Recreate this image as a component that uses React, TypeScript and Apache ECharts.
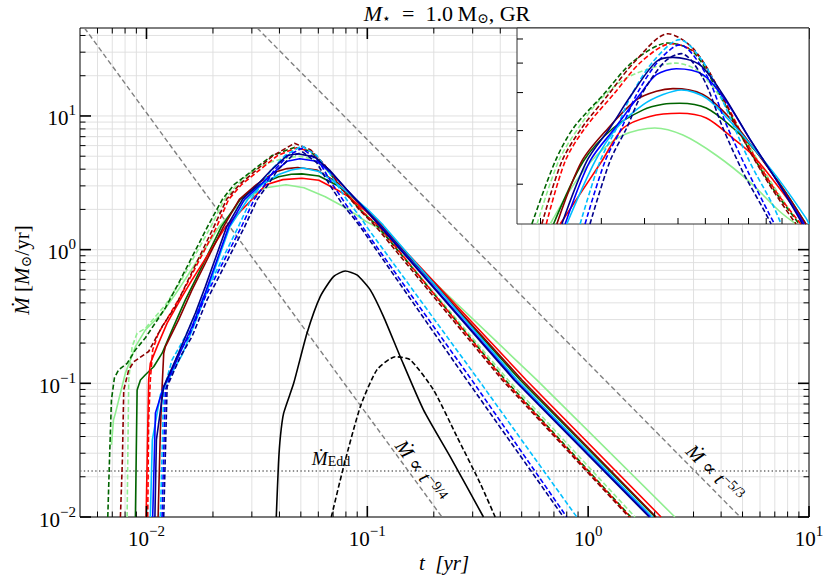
import React, { useEffect, useRef } from 'react';
import * as echarts from 'echarts';

const SERIF = 'Liberation Serif, Times New Roman, DejaVu Serif, serif';

type Pt = [number, number];

// ---- colored curves: [t (yr), Mdot (Msun/yr)] ----
const darkGreenDashed: Pt[] = [[0.00668,0.01],[0.0068,0.0268],[0.00694,0.0752],[0.00716,0.11],[0.00748,0.126],[0.00817,0.141],[0.00891,0.178],[0.00989,0.219],[0.01218,0.367],[0.01423,0.594],[0.01888,1.48],[0.02206,2.38],[0.02491,3.06],[0.03041,3.94],[0.0371,5.06],[0.04677,5.82],[0.05517,5.46],[0.06451,4.14],[0.07695,2.83],[0.09405,1.94],[0.1121,1.48],[0.421,0.106],[1.56,0.01]];
const darkRedDashed: Pt[] = [[0.00762,0.01],[0.00778,0.0268],[0.00789,0.0893],[0.00831,0.126],[0.00876,0.145],[0.01023,0.173],[0.01177,0.266],[0.01351,0.375],[0.02018,1.48],[0.02306,2.38],[0.02633,3.06],[0.03143,3.94],[0.0375,5.06],[0.04677,6.24],[0.05517,5.6],[0.06451,4.25],[0.07695,2.83],[0.092,1.99],[0.1097,1.48],[0.408,0.106],[1.53,0.01]];
const redDashed: Pt[] = [[0.01013,0.01],[0.01023,0.0532],[0.01041,0.106],[0.01067,0.178],[0.01132,0.237],[0.01218,0.289],[0.01423,0.445],[0.02078,1.48],[0.02357,2.38],[0.02691,3.06],[0.03249,3.94],[0.03921,5.06],[0.04782,5.79],[0.05643,5.39],[0.06597,4.04],[0.07868,2.76],[0.09616,1.89],[0.1134,1.48],[0.416,0.106],[1.55,0.01]];
const lightGreenDashed: Pt[] = [[0.00817,0.01],[0.00831,0.106],[0.00861,0.188],[0.00907,0.237],[0.00989,0.258],[0.01218,0.386],[0.01423,0.573],[0.01954,1.48],[0.02255,2.38],[0.02574,3.06],[0.02974,3.79],[0.03551,4.47],[0.0433,4.87],[0.04943,5.0],[0.05643,4.75],[0.06451,4.04],[0.07695,2.9],[0.09405,1.99],[0.1121,1.48],[0.434,0.106],[1.63,0.01]];
const skyBlueDashed: Pt[] = [[0.01156,0.01],[0.01197,0.0893],[0.01306,0.15],[0.015,0.224],[0.01785,0.421],[0.02604,1.48],[0.02974,2.38],[0.03322,3.06],[0.0367,3.94],[0.04236,5.06],[0.05053,5.97],[0.05902,5.06],[0.06746,3.74],[0.08046,2.38],[0.09405,1.71],[0.0994,1.48],[0.319,0.106],[0.888,0.01]];
const blueDashed: Pt[] = [[0.01177,0.01],[0.01218,0.0893],[0.01375,0.158],[0.01552,0.224],[0.01847,0.445],[0.02691,1.48],[0.03075,2.38],[0.03434,3.06],[0.03793,3.94],[0.04378,5.06],[0.05053,5.74],[0.06036,4.58],[0.06899,3.14],[0.08046,2.15],[0.092,1.59],[0.0951,1.48],[0.297,0.106],[0.8,0.01]];
const navyDashed: Pt[] = [[0.01197,0.01],[0.0124,0.0945],[0.01423,0.158],[0.01608,0.224],[0.0188,0.421],[0.02781,1.48],[0.03177,2.38],[0.03551,3.06],[0.03921,3.94],[0.0458,5.06],[0.0511,5.37],[0.05902,4.47],[0.06746,3.06],[0.07695,2.2],[0.08798,1.67],[0.09302,1.48],[0.282,0.106],[0.773,0.01]];
const navySolid: Pt[] = [[0.01092,0.01],[0.01109,0.0377],[0.01197,0.0945],[0.01398,0.169],[0.01665,0.336],[0.01847,0.529],[0.02306,1.48],[0.02722,2.38],[0.03177,3.06],[0.0367,3.94],[0.0433,5.06],[0.04835,5.22],[0.05771,4.94],[0.06746,3.94],[0.08046,2.83],[0.09832,1.99],[0.1146,1.48],[0.462,0.106],[1.89,0.01]];
const blueSolid: Pt[] = [[0.01067,0.01],[0.01098,0.0601],[0.01197,0.0945],[0.01351,0.141],[0.01608,0.266],[0.01847,0.475],[0.02357,1.48],[0.02781,2.38],[0.03285,3.06],[0.03878,3.94],[0.0433,4.58],[0.04943,4.79],[0.05902,4.58],[0.06899,3.74],[0.08046,2.83],[0.09832,1.99],[0.1159,1.48],[0.467,0.106],[1.91,0.01]];
const darkRedSolid: Pt[] = [[0.01129,0.01],[0.01156,0.0448],[0.01177,0.0945],[0.01197,0.168],[0.01218,0.188],[0.01398,0.298],[0.01608,0.5],[0.0223,1.48],[0.02633,2.38],[0.03143,3.06],[0.03793,3.79],[0.0433,4.04],[0.04835,4.12],[0.05902,3.94],[0.07055,3.3],[0.08414,2.56],[0.1005,1.94],[0.1172,1.48],[0.502,0.106],[2.03,0.01]];
const skyBlueSolid: Pt[] = [[0.01041,0.01],[0.01063,0.0377],[0.01156,0.0819],[0.01231,0.1007],[0.01449,0.163],[0.01665,0.288],[0.01867,0.475],[0.02383,1.48],[0.02877,2.38],[0.03322,3.06],[0.03965,3.65],[0.04526,3.94],[0.0511,4.08],[0.06036,3.84],[0.07214,3.14],[0.08604,2.49],[0.1005,1.99],[0.1172,1.55],[0.1197,1.48],[0.477,0.106],[1.95,0.01]];
const darkGreenSolid: Pt[] = [[0.00891,0.01],[0.00907,0.0893],[0.00939,0.106],[0.00989,0.116],[0.01078,0.133],[0.01177,0.168],[0.01306,0.251],[0.015,0.421],[0.01665,0.594],[0.02181,1.48],[0.02661,2.38],[0.03249,3.06],[0.03965,3.51],[0.04526,3.66],[0.05053,3.69],[0.06036,3.56],[0.07214,3.06],[0.08414,2.56],[0.1005,1.94],[0.1172,1.48],[0.492,0.106],[2.01,0.01]];
const redSolid: Pt[] = [[0.00996,0.01],[0.01023,0.106],[0.01041,0.141],[0.01117,0.188],[0.0124,0.282],[0.01449,0.445],[0.01608,0.594],[0.0228,1.48],[0.03008,2.38],[0.03473,3.06],[0.04144,3.34],[0.05053,3.42],[0.06036,3.3],[0.07214,2.83],[0.08228,2.49],[0.09832,1.94],[0.1172,1.48],[0.524,0.106],[2.14,0.01]];
const lightGreenSolid: Pt[] = [[0.00694,0.0346],[0.00709,0.0532],[0.00724,0.0601],[0.00803,0.1197],[0.00891,0.188],[0.00989,0.251],[0.01177,0.336],[0.01394,0.5],[0.02133,1.48],[0.02491,1.99],[0.02909,2.49],[0.03473,2.9],[0.04283,3.06],[0.05166,2.9],[0.06451,2.49],[0.08046,2.04],[0.09832,1.63],[0.1097,1.48],[0.585,0.106],[2.47,0.01]];

// ---- black curves ----
const blackSolid: Pt[] = [[0.0387,0.01],[0.0396,0.025],[0.0404,0.04],[0.0418,0.0598],[0.0464,0.1],[0.0533,0.237],[0.0612,0.445],[0.0703,0.628],[0.0795,0.693],[0.0897,0.647],[0.1031,0.5],[0.1184,0.3155],[0.141,0.158],[0.1796,0.0633],[0.2372,0.0283],[0.3357,0.01]];
const blackDashed: Pt[] = [[0.0687,0.01],[0.0781,0.0238],[0.093,0.067],[0.1105,0.126],[0.1337,0.158],[0.1563,0.15],[0.1994,0.0893],[0.2544,0.04],[0.3243,0.0179],[0.3793,0.01]];

// ---- reference lines ----
const powerLaw53: Pt[] = [[0.0317,45.5],[4.88,0.01]];
const powerLaw94: Pt[] = [[0.00524,45.5],[0.2177,0.01]];
const eddLine: Pt[] = [[0.005,0.0221],[10,0.0221]];

// ---- axes ----
const xRange = [0.005, 10];
const yRange = [0.01, 45.5];
const insetXRange = [0.0171, 0.1197];
const insetYRange = [1.48, 6.52];
const xMajorTicks = [0.01, 0.1, 1, 10];
const xMinorTicks = [0.006,0.007,0.008,0.009,0.02,0.03,0.04,0.05,0.06,0.07,0.08,0.09,0.2,0.3,0.4,0.5,0.6,0.7,0.8,0.9,2,3,4,5,6,7,8,9];
const yMajorTicks = [0.01, 0.1, 1, 10];
const yMinorTicks = [0.02,0.03,0.04,0.05,0.06,0.07,0.08,0.09,0.2,0.3,0.4,0.5,0.6,0.7,0.8,0.9,2,3,4,5,6,7,8,9,20,30,40];
const insetXTicks = [0.02,0.03,0.04,0.05,0.06,0.07,0.08,0.09,0.1];
const insetYTicks = [2,3,4,5,6];

const curves = [
  { name: 'lightgreen', data: lightGreenSolid, color: '#90ee90', dashed: false },
  { name: 'lightgreen-d', data: lightGreenDashed, color: '#90ee90', dashed: true },
  { name: 'darkgreen', data: darkGreenSolid, color: '#006400', dashed: false },
  { name: 'darkgreen-d', data: darkGreenDashed, color: '#006400', dashed: true },
  { name: 'red', data: redSolid, color: '#ff0000', dashed: false },
  { name: 'red-d', data: redDashed, color: '#ff0000', dashed: true },
  { name: 'darkred', data: darkRedSolid, color: '#8b0000', dashed: false },
  { name: 'darkred-d', data: darkRedDashed, color: '#8b0000', dashed: true },
  { name: 'skyblue', data: skyBlueSolid, color: '#00bfff', dashed: false },
  { name: 'skyblue-d', data: skyBlueDashed, color: '#00bfff', dashed: true },
  { name: 'blue', data: blueSolid, color: '#0000ff', dashed: false },
  { name: 'blue-d', data: blueDashed, color: '#0000ff', dashed: true },
  { name: 'navy', data: navySolid, color: '#00008b', dashed: false },
  { name: 'navy-d', data: navyDashed, color: '#00008b', dashed: true },
];

const powLabel = (v: number) => {
  const e = Math.log10(v);
  const r = Math.round(e);
  if (Math.abs(e - r) > 1e-6) return '';
  return `{b|10}{s|${r < 0 ? '\u2212' + -r : r}}`;
};
const labelRich = {
  b: { fontSize: 21, fontFamily: SERIF, color: '#000', lineHeight: 26, verticalAlign: 'bottom' },
  s: { fontSize: 15, fontFamily: SERIF, color: '#000', lineHeight: 12, verticalAlign: 'top' },
};

function gridLineSeries(grid: number, axis: 'x' | 'y', values: number[], ref: number) {
  return {
    type: 'custom', xAxisIndex: grid, yAxisIndex: grid, z: 1, silent: true,
    data: values.map((v) => (axis === 'x' ? [v, ref] : [ref, v])),
    renderItem: (params: any, api: any) => {
      const cs = params.coordSys;
      const p = api.coord([api.value(0), api.value(1)]);
      const shape = axis === 'x'
        ? { x1: p[0], y1: cs.y, x2: p[0], y2: cs.y + cs.height }
        : { x1: cs.x, y1: p[1], x2: cs.x + cs.width, y2: p[1] };
      return { type: 'line', shape, style: { stroke: '#dedede', lineWidth: 0.9 } };
    },
  };
}

function tickSeries(grid: number, axis: 'x' | 'y', values: number[], ref: number, len: number, width: number, both: boolean, z: number) {
  return {
    type: 'custom', xAxisIndex: grid, yAxisIndex: grid, z, silent: true,
    data: values.map((v) => (axis === 'x' ? [v, ref] : [ref, v])),
    renderItem: (params: any, api: any) => {
      const cs = params.coordSys;
      const p = api.coord([api.value(0), api.value(1)]);
      const style = { stroke: '#000', lineWidth: width };
      const children: any[] = [];
      if (axis === 'x') {
        const b = cs.y + cs.height;
        children.push({ type: 'line', shape: { x1: p[0], y1: b, x2: p[0], y2: b - len }, style });
        if (both) children.push({ type: 'line', shape: { x1: p[0], y1: cs.y, x2: p[0], y2: cs.y + len }, style });
      } else {
        children.push({ type: 'line', shape: { x1: cs.x, y1: p[1], x2: cs.x + len, y2: p[1] }, style });
        if (both) {
          const r = cs.x + cs.width;
          children.push({ type: 'line', shape: { x1: r, y1: p[1], x2: r - len, y2: p[1] }, style });
        }
      }
      return { type: 'group', children };
    },
  };
}

const tok = (size: number, italic: boolean, extra: any = {}) => ({
  fontSize: size, fontFamily: SERIF, fontStyle: italic ? 'italic' : 'normal', fill: '#000', color: '#000', lineHeight: size + 2, ...extra,
});

function textEl(x: number, y: number, text: string, rich: any, rotation = 0) {
  return {
    type: 'text', x, y, rotation, z: 30, silent: true,
    style: { text, rich, align: 'center', verticalAlign: 'middle', fill: '#000', fontFamily: SERIF, fontSize: 18 },
  };
}

const inInset = (d: Pt[]) => d.filter((p) => p[1] >= insetYRange[0] - 0.005 && p[0] <= insetXRange[1] + 0.0005);

export default function App() {
  const ref = useRef<HTMLDivElement>(null);
  useEffect(() => {
    if (!ref.current) return;
    const chart = echarts.init(ref.current, undefined, { renderer: 'svg' });

    const lineSeries = (data: Pt[], color: string, dashed: boolean, grid: number, z: number, smooth: number | boolean = false) => ({
      type: 'line', xAxisIndex: grid, yAxisIndex: grid, data, symbol: 'none', smooth,
      clip: true, z, silent: true,
      lineStyle: { color, width: 1.6, type: dashed ? [5, 2.5] : 'solid' },
    });

    const series: any[] = [
      gridLineSeries(0, 'x', [...xMajorTicks, ...xMinorTicks], 1),
      gridLineSeries(0, 'y', [...yMajorTicks, ...yMinorTicks], 0.1),
      { type: 'line', xAxisIndex: 0, yAxisIndex: 0, data: powerLaw53, symbol: 'none', clip: true, z: 2, silent: true, lineStyle: { color: '#808080', width: 1.4, type: [5, 3] } },
      { type: 'line', xAxisIndex: 0, yAxisIndex: 0, data: powerLaw94, symbol: 'none', clip: true, z: 2, silent: true, lineStyle: { color: '#808080', width: 1.4, type: [5, 3] } },
      { type: 'line', xAxisIndex: 0, yAxisIndex: 0, data: eddLine, symbol: 'none', clip: true, z: 2, silent: true, lineStyle: { color: '#6e6e6e', width: 1.4, type: [1.4, 2.4] } },
      lineSeries(blackSolid, '#000', false, 0, 3, 0.2),
      lineSeries(blackDashed, '#000', true, 0, 3, 0.2),
      ...curves.map((c) => lineSeries(c.data, c.color, c.dashed, 0, 3, false)),
      tickSeries(0, 'x', xMajorTicks, 1, 11, 1.6, true, 4),
      tickSeries(0, 'x', xMinorTicks, 1, 5.5, 1, true, 4),
      tickSeries(0, 'y', yMajorTicks, 0.1, 11, 1.6, true, 4),
      tickSeries(0, 'y', yMinorTicks, 0.1, 5.5, 1, true, 4),
      ...curves.map((c) => lineSeries(inInset(c.data), c.color, c.dashed, 1, 11, 0.3)),
      tickSeries(1, 'x', insetXTicks, 2, 6, 1, false, 12),
      tickSeries(1, 'y', insetYTicks, 0.05, 6, 1, false, 12),
    ];

    const option: any = {
      animation: false,
      textStyle: { fontFamily: SERIF, color: '#000' },
      grid: [
        { left: 80, top: 28, width: 729, height: 489, show: true, borderColor: '#000', borderWidth: 1, backgroundColor: 'transparent', z: 2 },
        { left: 517, top: 28, width: 292, height: 196, show: true, borderColor: '#333', borderWidth: 1, backgroundColor: '#fff', z: 10 },
      ],
      xAxis: [
        { gridIndex: 0, type: 'log', logBase: 10, min: xRange[0], max: xRange[1], axisLine: { show: false }, axisTick: { show: false }, splitLine: { show: false }, axisLabel: { margin: 6, fontFamily: SERIF, fontSize: 21, color: '#000', formatter: powLabel, rich: labelRich } },
        { gridIndex: 1, type: 'log', logBase: 10, min: insetXRange[0], max: insetXRange[1], show: false },
      ],
      yAxis: [
        { gridIndex: 0, type: 'log', logBase: 10, min: yRange[0], max: yRange[1], axisLine: { show: false }, axisTick: { show: false }, splitLine: { show: false }, axisLabel: { margin: 4, fontFamily: SERIF, fontSize: 21, color: '#000', formatter: powLabel, rich: labelRich } },
        { gridIndex: 1, type: 'log', logBase: 10, min: insetYRange[0], max: insetYRange[1], show: false },
      ],
      series,
      graphic: [
        textEl(447, 13, '{i|M}{sub|\u22c6}{r|\u2002=\u20021.0\u2009M}{sub|\u2299}{r|, GR}', {
          i: tok(22, true), r: tok(22, false), sub: tok(14, false, { lineHeight: 8, verticalAlign: 'bottom' }),
        }),
        textEl(444, 563, '{i|t  [yr]}', { i: tok(21, true) }),
        textEl(22, 270, '{i|\u1e40}{r| [}{i|M}{sub|\u2299}{r|/yr]}', {
          i: tok(21, true), r: tok(21, false), sub: tok(14, false, { lineHeight: 8, verticalAlign: 'bottom' }),
        }, Math.PI / 2),
        textEl(331, 458, '{i|\u1e40}{sub|Edd}', {
          i: tok(19, true), sub: tok(14, false, { lineHeight: 8, verticalAlign: 'bottom' }),
        }),
        textEl(421, 471, '{i|\u1e40}{r| \u221d }{i|t}{sup|\u22129/4}', {
          i: tok(20, true), r: tok(20, false), sup: tok(14, false, { lineHeight: 8, verticalAlign: 'top' }),
        }, -0.94),
        textEl(715, 473, '{i|\u1e40}{r| \u221d }{i|t}{sup|\u22125/3}', {
          i: tok(20, true), r: tok(20, false), sup: tok(14, false, { lineHeight: 8, verticalAlign: 'top' }),
        }, -0.79),
      ],
    };
    chart.setOption(option);
    return () => chart.dispose();
  }, []);
  return <div ref={ref} style={{ position: 'fixed', left: 0, top: 0, width: 830, height: 579, background: '#fff' }} />;
}
